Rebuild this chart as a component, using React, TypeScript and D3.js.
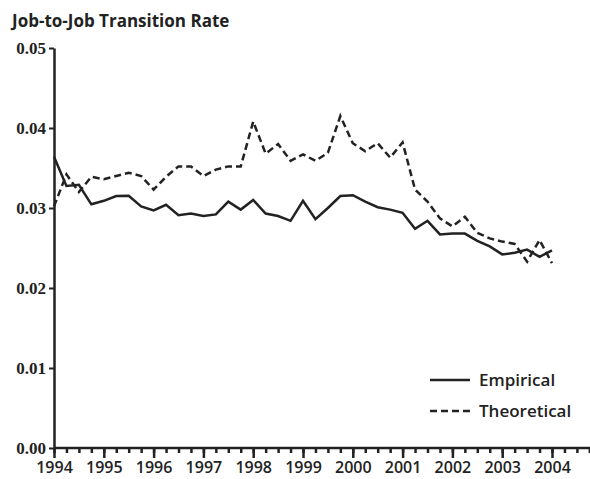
import { useEffect, useRef } from "react";
import * as d3 from "d3";

// quarterly observations, 1994Q1 .. 2004Q1
const startYear = 1994;
const empirical = [
  0.0364, 0.03275, 0.0329, 0.03046, 0.0309, 0.0315, 0.03154, 0.0302,
  0.0297, 0.0304, 0.0291, 0.0293, 0.029, 0.0292, 0.0308, 0.0298,
  0.031, 0.0293, 0.029, 0.0284, 0.0309, 0.0286, 0.03, 0.0315,
  0.0316, 0.0308, 0.0301, 0.0298, 0.0294, 0.0274, 0.0284, 0.0267,
  0.0268, 0.0268, 0.0259, 0.0252, 0.0242, 0.0244, 0.0248, 0.0239,
  0.0247,
];
const theoretical = [
  0.0302, 0.0342, 0.032, 0.0339, 0.0336, 0.034, 0.0344, 0.034,
  0.0323, 0.0339, 0.0352, 0.0352, 0.034, 0.0348, 0.0352, 0.0352,
  0.0408, 0.0368, 0.038, 0.0359, 0.0367, 0.0359, 0.0369, 0.0415,
  0.0381, 0.0371, 0.0381, 0.0363, 0.0382, 0.0323, 0.0308, 0.0287,
  0.0277, 0.0289, 0.0269, 0.0262, 0.0258, 0.0255, 0.0233, 0.026,
  0.0231,
];
const yearTicks = [1994, 1995, 1996, 1997, 1998, 1999, 2000, 2001, 2002, 2003, 2004];
const yTicks = [0, 0.01, 0.02, 0.03, 0.04, 0.05];
const seriesNames = ["Empirical", "Theoretical"];

export default function App() {
  const svgRef = useRef<SVGSVGElement>(null);

  useEffect(() => {
    const width = 590,
      height = 479;

    const x = d3.scaleLinear().domain([1994, 2004]).range([54, 552]);
    const y = d3.scaleLinear().domain([0, 0.05]).range([448, 48]);

    const svg = d3.select(svgRef.current).attr("width", width).attr("height", height);
    svg.selectAll("*").remove();

    const sans = "'Open Sans', Lato, sans-serif";
    const serif = "'Liberation Serif', 'DejaVu Serif', serif";

    // title
    svg
      .append("text")
      .attr("x", 12)
      .attr("y", 27)
      .attr("font-family", sans)
      .attr("font-weight", 700)
      .attr("font-size", 17)
      .attr("fill", "#222")
      .text("Job-to-Job Transition Rate");

    // quarterly minor ticks + axis line
    const quarters = d3.range(0, 45).map((i) => startYear + i / 4);
    const minor = svg
      .append("g")
      .attr("transform", `translate(0,${y(0)})`)
      .call(d3.axisBottom(x).tickValues(quarters).tickSize(5).tickFormat(() => "").tickSizeOuter(0));
    minor.select(".domain").remove();
    minor.selectAll("line").attr("stroke", "#222").attr("stroke-width", 2.5);

    const major = svg
      .append("g")
      .attr("transform", `translate(0,${y(0)})`)
      .call(d3.axisBottom(x).tickValues(yearTicks).tickSize(10).tickFormat(d3.format("d")).tickPadding(4));
    major.select(".domain").remove();
    major.selectAll("line").attr("stroke", "#222").attr("stroke-width", 2.5);
    major
      .selectAll("text")
      .attr("font-family", sans)
      .attr("font-weight", 600)
      .attr("font-size", 16)
      .attr("fill", "#222");

    svg
      .append("line")
      .attr("x1", x(1994))
      .attr("x2", x(2005.5))
      .attr("y1", y(0))
      .attr("y2", y(0))
      .attr("stroke", "#222")
      .attr("stroke-width", 2.5);

    // y axis
    const yAxis = svg
      .append("g")
      .attr("transform", `translate(${x(1994)},0)`)
      .call(d3.axisLeft(y).tickValues(yTicks).tickSize(5).tickSizeOuter(0).tickFormat(d3.format(".2f")).tickPadding(3));
    yAxis.select(".domain").attr("stroke", "#222").attr("stroke-width", 2.5);
    yAxis.selectAll("line").attr("stroke", "#222").attr("stroke-width", 2);
    yAxis
      .selectAll("text")
      .attr("font-family", serif)
      .attr("font-weight", 700)
      .attr("font-size", 17)
      .attr("fill", "#222");

    // lines
    const line = d3
      .line<number>()
      .x((_, i) => x(startYear + i / 4))
      .y((d) => y(d));

    svg
      .append("path")
      .datum(empirical)
      .attr("d", line)
      .attr("fill", "none")
      .attr("stroke", "#222")
      .attr("stroke-width", 2.5)
      .attr("stroke-linejoin", "miter");

    svg
      .append("path")
      .datum(theoretical)
      .attr("d", line)
      .attr("fill", "none")
      .attr("stroke", "#222")
      .attr("stroke-width", 2.5)
      .attr("stroke-dasharray", "7,4");

    // legend
    const legend = svg.append("g");
    seriesNames.forEach((name, i) => {
      const ly = 380 + i * 31;
      legend
        .append("line")
        .attr("x1", 430)
        .attr("x2", 470)
        .attr("y1", ly)
        .attr("y2", ly)
        .attr("stroke", "#222")
        .attr("stroke-width", 2.5)
        .attr("stroke-dasharray", i === 1 ? "7,4" : null);
      legend
        .append("text")
        .attr("x", 479)
        .attr("y", ly)
        .attr("dy", "0.35em")
        .attr("font-family", sans)
        .attr("font-weight", 600)
        .attr("font-size", 17)
        .attr("fill", "#222")
        .text(name);
    });
  }, []);

  return <svg ref={svgRef} style={{ position: "absolute", left: 0, top: 0 }}></svg>;
}
